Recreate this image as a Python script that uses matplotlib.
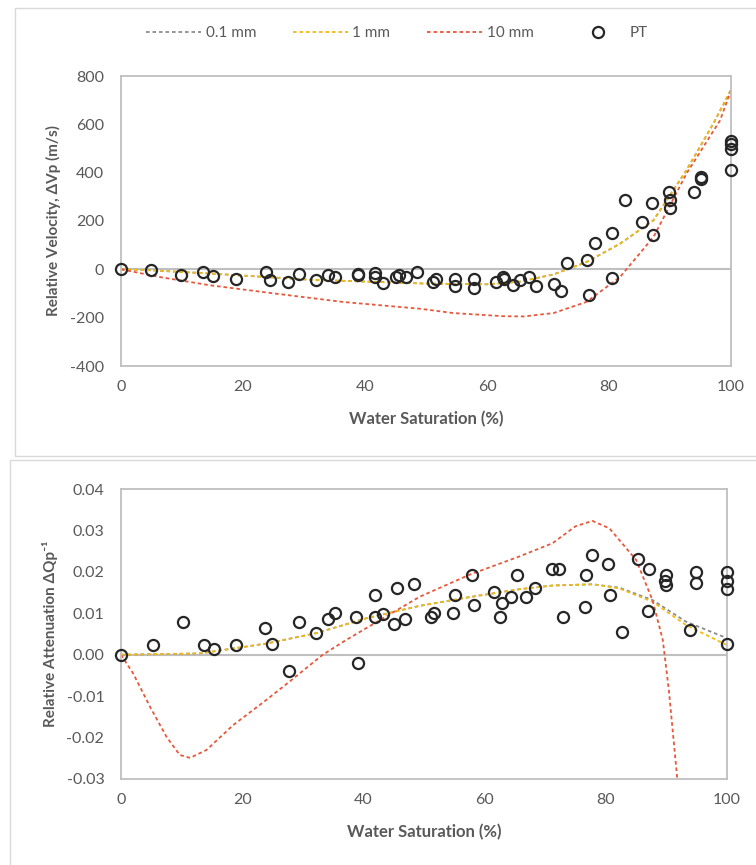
import matplotlib
matplotlib.use('Agg')
import matplotlib.pyplot as plt
from matplotlib.patches import Rectangle
from matplotlib.lines import Line2D

plt.rcParams['font.family'] = ['Lato', 'DejaVu Sans']
plt.rcParams['axes.unicode_minus'] = False

# water saturation (%) and measured points (PT)
sw_vp = [0, 4.9, 9.8, 13.4, 15, 18.8, 23.7, 24.5, 27.3, 29.1, 32, 34, 35.1, 38.9, 38.9,
         41.7, 41.7, 43, 45, 45.6, 46.7, 48.5, 51.2, 51.7, 54.8, 54.8, 57.9, 57.9, 61.5,
         62.6, 62.8, 64.3, 65.4, 66.9, 68.1, 71, 72.1, 73.1, 76.4, 76.7, 77.7, 80.5, 80.5,
         82.6, 85.4, 87, 87.2, 89.8, 90, 90, 93.9, 95, 95, 100, 100, 100, 100]
dvp = [0, -4, -25, -11, -26, -39, -11, -45, -51, -19, -45, -25, -32, -18, -25,
       -17, -30, -58, -32, -24, -32, -11, -52, -39, -39, -70, -39, -77, -52,
       -32, -40, -63, -45, -32, -69, -62, -90, 26, 40, -108, 110, 150, -37,
       285, 196, 273, 144, 319, 285, 252, 319, 382, 375, 531, 520, 498, 410]

sw_q = [0, 5.2, 10.2, 13.7, 15.3, 18.9, 23.8, 24.9, 27.7, 29.3, 32.1, 34.2, 35.3, 38.8, 39.1,
        41.9, 41.9, 43.2, 45, 45.5, 46.8, 48.4, 51.2, 51.7, 54.8, 55.1, 57.9, 58.2, 61.6,
        62.6, 62.9, 64.4, 65.4, 66.9, 68.3, 71.2, 72.2, 72.9, 76.6, 76.8, 77.8, 80.4, 80.7,
        82.7, 85.3, 86.9, 87.1, 89.9, 89.7, 90, 93.9, 94.9, 94.9, 100, 100, 100, 100]
dq = [0, 0.0023, 0.0079, 0.0023, 0.0014, 0.0023, 0.0064, 0.0026, -0.0039, 0.0079, 0.0052,
      0.0087, 0.0101, 0.009, -0.0019, 0.0143, 0.009, 0.0098, 0.0075, 0.0162, 0.0087, 0.017,
      0.009, 0.0101, 0.0101, 0.0143, 0.0193, 0.012, 0.0151, 0.009, 0.0124, 0.0139, 0.0193,
      0.0139, 0.0162, 0.0207, 0.0207, 0.009, 0.0116, 0.0193, 0.0241, 0.0219, 0.0143, 0.0056,
      0.023, 0.0106, 0.0207, 0.0193, 0.0178, 0.0168, 0.006, 0.02, 0.0174, 0.02, 0.0178,
      0.0158, 0.0026]

# model curves, velocity
vp_01_x = [0, 5, 15, 31, 50, 60, 65.4, 70.9, 76.3, 81.8, 87.3, 92.7, 97.1, 100]
vp_01_y = [0, -4, -18, -43, -59, -62, -51, -21, 30, 106, 203, 410, 603, 740]
vp_1_x = [0, 5, 15, 31, 50, 60, 65.4, 70.9, 76.3, 81.8, 87.3, 92.7, 97.1, 100]
vp_1_y = [0, -4, -18, -43, -59, -62, -51, -21, 30, 106, 203, 410, 603, 745]
vp_10_x = [0, 6.4, 14.6, 25.5, 36.4, 49, 54.5, 62.7, 66, 70.9, 76.3, 81.8, 87.3, 92.7, 98.2, 100]
vp_10_y = [0, -32, -66, -101, -135, -163, -181, -194, -195, -181, -135, -32, 134, 396, 616, 740]

# model curves, attenuation
q_01_x = [0, 13, 18.5, 24, 32.2, 40.5, 49.3, 57.5, 65.7, 71.2, 77.8, 82.2, 87.7, 93.2, 100]
q_01_y = [0, 0.0003, 0.0015, 0.0027, 0.0052, 0.0088, 0.0118, 0.0139, 0.0158, 0.0167, 0.017,
          0.0162, 0.0132, 0.008, 0.004]
q_1_x = [0, 13, 18.5, 24, 32.2, 40.5, 49.3, 57.5, 65.7, 71.2, 77.8, 82.2, 87.7, 93.2, 100]
q_1_y = [0, 0.0003, 0.0015, 0.0027, 0.0052, 0.0088, 0.0118, 0.0139, 0.0158, 0.0167, 0.017,
         0.016, 0.0128, 0.0072, 0.0023]
q_10_x = [0, 2, 4.8, 7.5, 9.7, 11.4, 14.1, 18.5, 24, 27.8, 33.3, 37.2, 49.3, 57.5, 65.7,
          71.2, 75, 77.8, 80.6, 85, 87.7, 89.4, 90.4, 91.8, 92.3]
q_10_y = [0, -0.0045, -0.0126, -0.0198, -0.0242, -0.0249, -0.023, -0.017, -0.0109, -0.0065,
          0, 0.0036, 0.014, 0.0193, 0.0237, 0.0269, 0.031, 0.0323, 0.0305, 0.0229, 0.0132,
          0.0036, -0.0085, -0.03, -0.04]

c_gray = '#8C8C8C'
c_gold = '#F2BA13'
c_red = '#E8573A'
c_axis = '#BFBFBF'
c_text = '#595959'
dots = (0, (2, 1.6))

fig = plt.figure(figsize=(7.56, 8.65), dpi=100)

# chart boxes
fig.patches.append(Rectangle((15 / 756, 1 - 456 / 865), 745 / 756, 448 / 865,
                             transform=fig.transFigure, fill=False, ec='#D9D9D9', lw=1))
fig.patches.append(Rectangle((10 / 756, -0.01), 750 / 756, 1 - 460 / 865 + 0.01,
                             transform=fig.transFigure, fill=False, ec='#D9D9D9', lw=1))

ax1 = fig.add_axes([121 / 756, 1 - 366 / 865, 610 / 756, 290 / 865])
ax2 = fig.add_axes([121 / 756, 1 - 779 / 865, 606 / 756, 290 / 865])

mk = dict(ls='none', marker='o', ms=8, mfc='none', mec='#262626', mew=1.6)

ax1.plot(vp_01_x, vp_01_y, color=c_gray, ls=dots, lw=1.3)
ax1.plot(vp_1_x, vp_1_y, color=c_gold, ls=dots, lw=1.3)
ax1.plot(vp_10_x, vp_10_y, color=c_red, ls=dots, lw=1.3)
ax1.plot(sw_vp, dvp, zorder=5, clip_on=False, **mk)
ax1.set_ylim(-400, 800)
ax1.set_yticks(range(-400, 801, 200))

ax2.plot(q_01_x, q_01_y, color=c_gray, ls=dots, lw=1.3)
ax2.plot(q_1_x, q_1_y, color=c_gold, ls=dots, lw=1.3)
ax2.plot(q_10_x, q_10_y, color=c_red, ls=dots, lw=1.3)
ax2.plot(sw_q, dq, zorder=5, clip_on=False, **mk)
ax2.set_ylim(-0.03, 0.04)
ax2.set_yticks([-0.03, -0.02, -0.01, 0, 0.01, 0.02, 0.03, 0.04])
ax2.yaxis.set_major_formatter(plt.FormatStrFormatter('%.2f'))

for ax in (ax1, ax2):
    ax.set_xlim(0, 100)
    ax.set_xticks(range(0, 101, 20))
    ax.axhline(0, color=c_axis, lw=1.5, zorder=1)
    for s in ax.spines.values():
        s.set_color(c_axis)
        s.set_linewidth(1.3)
    ax.tick_params(length=0, labelsize=11.5, labelcolor=c_text)
    ax.tick_params(axis='x', pad=10)
    ax.tick_params(axis='y', pad=12)
    ax.set_xlabel('Water Saturation (%)', fontsize=12, fontweight='bold', color=c_text)
    ax.xaxis.set_label_coords(0.5, -0.155)

ax1.set_ylabel('Relative Velocity, ΔVp (m/s)', fontsize=11, fontweight='bold', color=c_text)
ax1.yaxis.set_label_coords(-0.098, 0.5)
ax2.set_ylabel('Relative Attenuation ΔQp⁻¹', fontsize=11, fontweight='bold', color=c_text)
ax2.yaxis.set_label_coords(-0.104, 0.5)

handles = [Line2D([], [], color=c_gray, ls=dots, lw=1.3),
           Line2D([], [], color=c_gold, ls=dots, lw=1.3),
           Line2D([], [], color=c_red, ls=dots, lw=1.3),
           Line2D([], [], **mk)]
fig.legend(handles, ['0.1 mm', '1 mm', '10 mm', 'PT'], loc='center', ncol=4,
           bbox_to_anchor=(0.525, 1 - 33 / 865), frameon=False, fontsize=11,
           labelcolor=c_text, handlelength=3.6, handletextpad=0.3, columnspacing=2.4)

fig.savefig('out.png', dpi=100)
